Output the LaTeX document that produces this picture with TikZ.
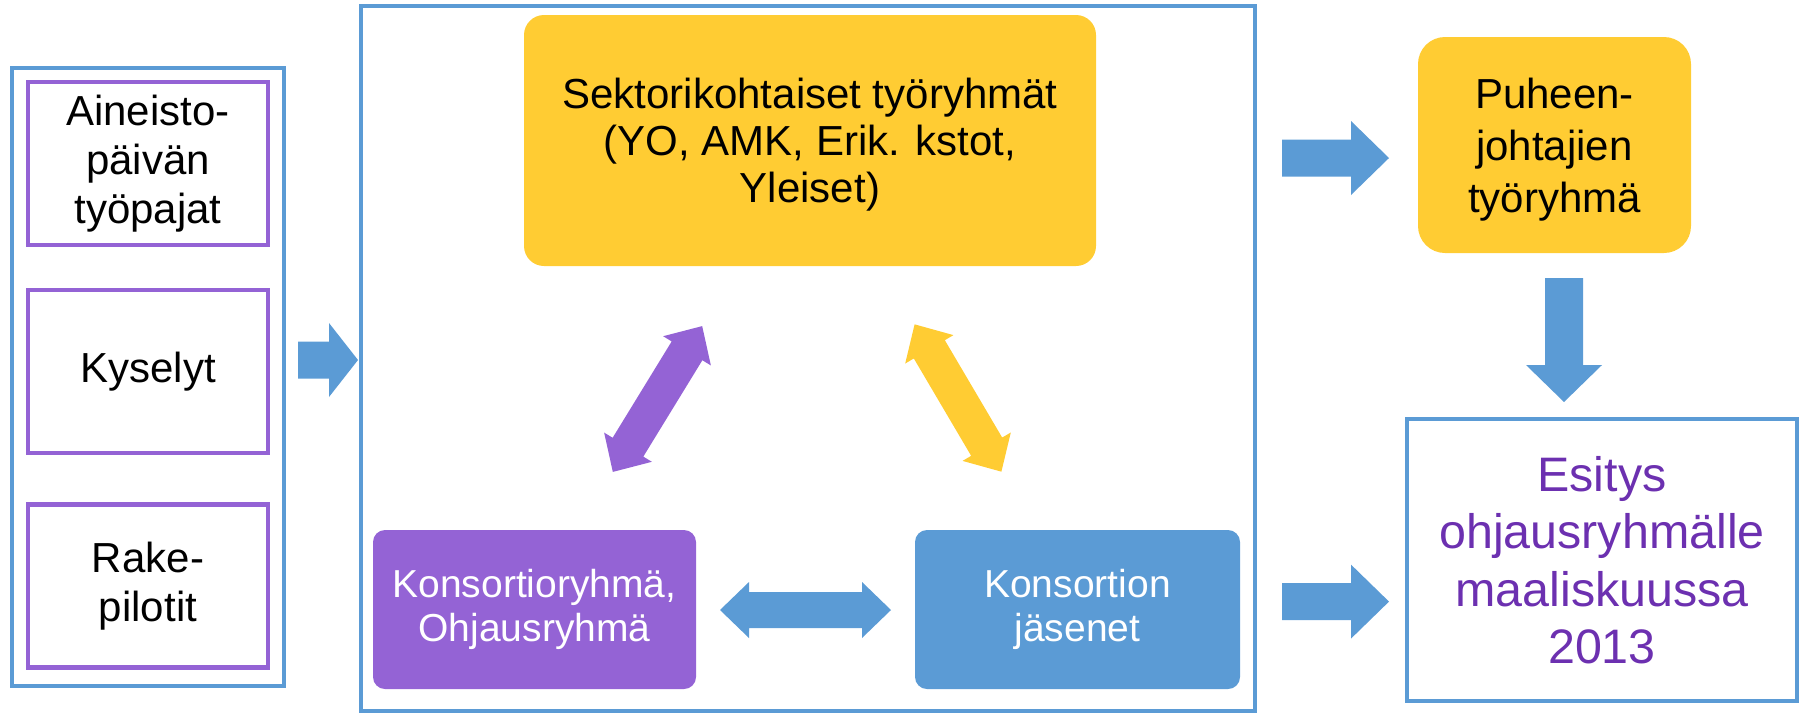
\documentclass[tikz,border=0pt]{standalone}
\usepackage{fontspec}
\setmainfont{Liberation Sans}
\definecolor{cblue}{HTML}{5B9BD5}
\definecolor{cyellow}{HTML}{FFCC33}
\definecolor{cpurple}{HTML}{9463D5}
\definecolor{ctext}{HTML}{6C30B0}
\newcommand{\fatdouble}[3]{%
  \fill[#3, shift={(#1)}, rotate=#2] (-85.5,0) -- (-56.5,-28) -- (-56.5,-18) -- (56.5,-18) -- (56.5,-28)
    -- (85.5,0) -- (56.5,28) -- (56.5,18) -- (-56.5,18) -- (-56.5,28) -- cycle;}
\newcommand{\stacklines}[1]{\begin{tabular}{@{}c@{}}#1\end{tabular}}
\newcommand{\lowered}[2]{\raisebox{-#1}[\height][\depth]{#2}}
\begin{document}
\begin{tikzpicture}[x=0.5pt,y=-0.5pt,
  bluebox/.style={draw=cblue, line width=2.2pt, rectangle, inner sep=0pt, align=center},
  purplebox/.style={draw=cpurple, line width=2.2pt, rectangle, inner sep=0pt, align=center,
    minimum width=120pt, minimum height=81.5pt, font=\fontsize{21}{24.5}\selectfont},
  ybox/.style={fill=cyellow, inner sep=0pt, align=center},
  cbox/.style={inner sep=0pt, align=center, text=white, rounded corners=6pt,
    minimum height=79.5pt, font=\fontsize{19.5}{21.7}\selectfont},
  arrowfill/.style={fill=cblue}]
\useasboundingbox (0,0) rectangle (1800,714);

% left column
\node[bluebox, minimum width=136pt, minimum height=309pt] (left) at (148,377) {};
\node[purplebox] (ain) at (148,163.5) {Aineisto-\\päivän\\työpajat};
\node[purplebox] (kys) at (148,371.5) {Kyselyt};
\node[purplebox] (rake) at (148,586) {Rake-\\pilotit};

% main box
\node[bluebox, minimum width=447pt, minimum height=352.5pt] (main) at (808,358.5) {};
\node[ybox, rounded corners=10pt, minimum width=286pt, minimum height=125.5pt,
  font=\fontsize{21}{23.5}\selectfont] (sekt) at (810,140.5)
  {\lowered{3pt}{\stacklines{Sektorikohtaiset työryhmät\\(YO, AMK, Erik. kstot,\\Yleiset)}}};
\node[cbox, fill=cpurple, minimum width=161.5pt] (kons) at (534.5,609.5) {Konsortioryhmä,\\Ohjausryhmä};
\node[cbox, fill=cblue, minimum width=162.5pt] (jas) at (1077.5,609.5) {Konsortion\\jäsenet};

% right column
\node[ybox, rounded corners=13.5pt, minimum width=136.5pt, minimum height=108pt,
  font=\fontsize{21}{26}\selectfont] (puh) at (1554.5,145)
  {\lowered{2.5pt}{\stacklines{Puheen-\\johtajien\\työryhmä}}};
\node[bluebox, minimum width=195pt, minimum height=141pt, text=ctext,
  font=\fontsize{24.2}{28.7}\selectfont] (esi) at (1602,560)
  {Esitys\\ohjausryhmälle\\maaliskuussa\\2013};

% block arrows
\coordinate (a1) at (298,360);
\coordinate (a2) at (1282,158);
\coordinate (a3) at (1282,601.6);
\coordinate (a4) at (1564,278);
\fill[arrowfill, shift={(a1)}] (0,-18.5) -- (31,-18.5) -- (31,-37) -- (60,0) -- (31,37) -- (31,18.5) -- (0,18.5) -- cycle;
\fill[arrowfill, shift={(a2)}] (0,-18.5) -- (69,-18.5) -- (69,-37) -- (107,0) -- (69,37) -- (69,18.5) -- (0,18.5) -- cycle;
\fill[arrowfill, shift={(a3)}] (0,-18.5) -- (69,-18.5) -- (69,-37) -- (107,0) -- (69,37) -- (69,18.5) -- (0,18.5) -- cycle;
\fill[arrowfill, shift={(a4)}] (-19,0) -- (-19,87) -- (-38,87) -- (0,124) -- (38,87) -- (19,87) -- (19,0) -- cycle;

\coordinate (d1) at (805.5,610);
\coordinate (d2) at (657.5,399);
\coordinate (d3) at (958,398);
\fatdouble{d1}{0}{cblue}
\fatdouble{d2}{58.5}{cpurple}
\fatdouble{d3}{-59.5}{cyellow}
\end{tikzpicture}
\end{document}
